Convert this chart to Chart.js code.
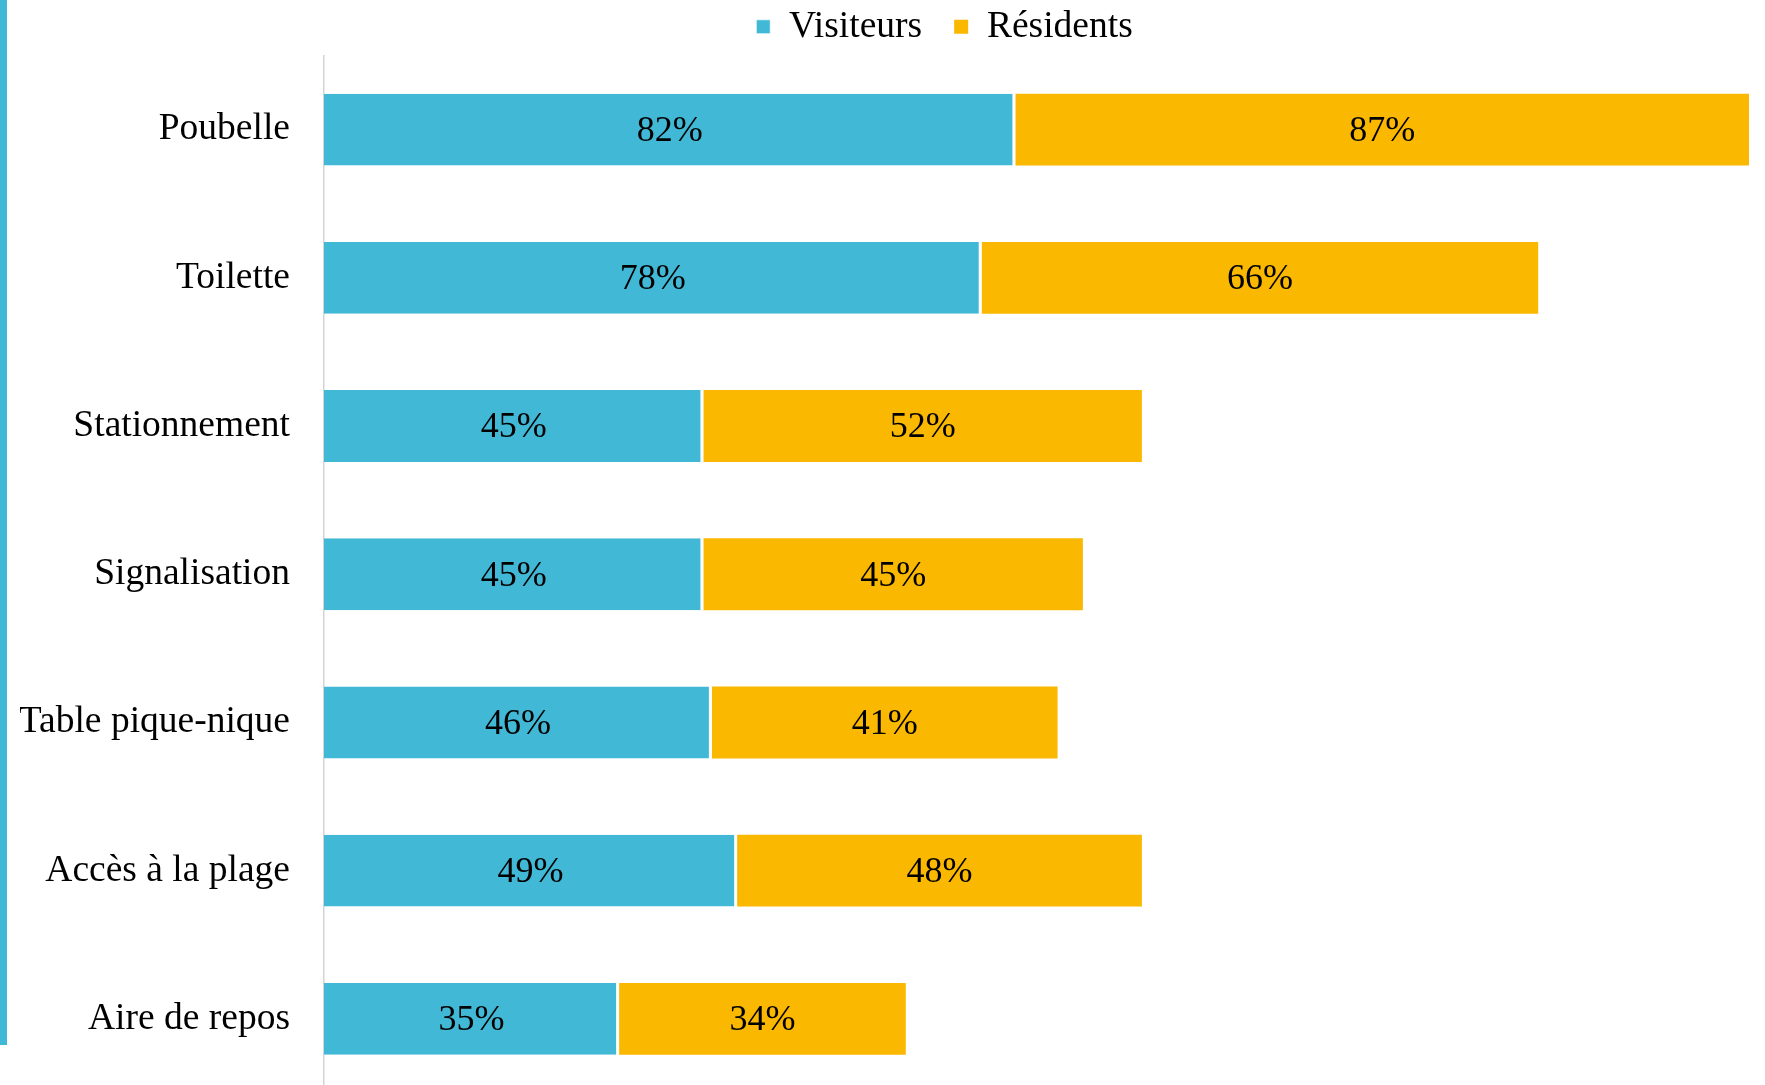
<!DOCTYPE html>
<html>
<head>
<meta charset="utf-8">
<script src="https://cdn.jsdelivr.net/npm/chart.js@4/dist/chart.umd.min.js"></script>
<style>
  html, body { margin: 0; padding: 0; background: #fff; overflow: hidden; }
  #wrap { position: relative; width: 1765px; height: 1085px; overflow: hidden; }
  #c { position: absolute; left: 0; top: -24px; }
  #stripe { position: absolute; left: 0; top: 0; width: 7px; height: 1045px; background: #41B8D5; z-index: 2; }
</style>
</head>
<body>
<div id="wrap">
  <canvas id="c" width="1765" height="1117"></canvas>
  <div id="stripe"></div>
</div>
<script>
const categories = ['Poubelle', 'Toilette', 'Stationnement', 'Signalisation', 'Table pique-nique', 'Accès à la plage', 'Aire de repos'];
const visiteurs = [82, 78, 45, 45, 46, 49, 35];
const residents = [87, 66, 52, 45, 41, 48, 34];
const seriesNames = ['Visiteurs', 'Résidents'];

const BLUE = '#41B8D5';
const ORANGE = '#FAB800';
const FONT = 'Liberation Serif';
const xMax = Math.max(...categories.map((_, i) => visiteurs[i] + residents[i]));

const dataLabels = {
  id: 'dataLabels',
  afterDatasetsDraw(chart) {
    const ctx = chart.ctx;
    ctx.save();
    ctx.font = '36px "' + FONT + '"';
    ctx.fillStyle = '#000';
    ctx.textAlign = 'center';
    ctx.textBaseline = 'middle';
    chart.data.datasets.forEach((ds, di) => {
      const meta = chart.getDatasetMeta(di);
      meta.data.forEach((bar, i) => {
        const p = bar.getProps(['x', 'y', 'base'], true);
        const cx = (p.x + p.base) / 2;
        ctx.fillText(ds.data[i] + '%', cx, p.y + 2);
      });
    });
    ctx.restore();
  }
};

const legendShift = {
  id: 'legendShift',
  afterLayout(chart) {
    const L = chart.legend;
    if (L) { L.left += 60; L.right += 60; }
  }
};

new Chart(document.getElementById('c'), {
  type: 'bar',
  data: {
    labels: categories,
    datasets: [
      {
        label: seriesNames[0],
        data: visiteurs,
        backgroundColor: BLUE,
        borderColor: '#ffffff',
        borderWidth: { top: 0, right: 3, bottom: 0, left: 0 },
        barPercentage: 0.97,
        categoryPercentage: 0.5
      },
      {
        label: seriesNames[1],
        data: residents,
        backgroundColor: ORANGE,
        borderWidth: 0,
        barPercentage: 0.97,
        categoryPercentage: 0.5
      }
    ]
  },
  options: {
    indexAxis: 'y',
    responsive: false,
    animation: false,
    layout: { padding: { left: 20, right: 16, top: 0, bottom: 0 } },
    scales: {
      x: {
        stacked: true,
        display: false,
        min: 0,
        max: xMax
      },
      y: {
        stacked: true,
        grid: { display: false, drawTicks: false },
        border: { display: true, color: '#d4d4d4', width: 1.5 },
        ticks: {
          color: '#000',
          padding: 34,
          font: { family: FONT, size: 37.5 }
        },
        afterFit(scale) {
          scale.width = 304;
          scale.paddingTop = 0;
          scale.paddingBottom = 0;
        }
      }
    },
    plugins: {
      legend: {
        position: 'top',
        align: 'center',
        labels: {
          boxWidth: 14,
          boxHeight: 14,
          padding: 32,
          color: '#000',
          font: { family: FONT, size: 37.5 }
        }
      },
      tooltip: { enabled: false }
    }
  },
  plugins: [dataLabels, legendShift]
});
</script>
</body>
</html>
